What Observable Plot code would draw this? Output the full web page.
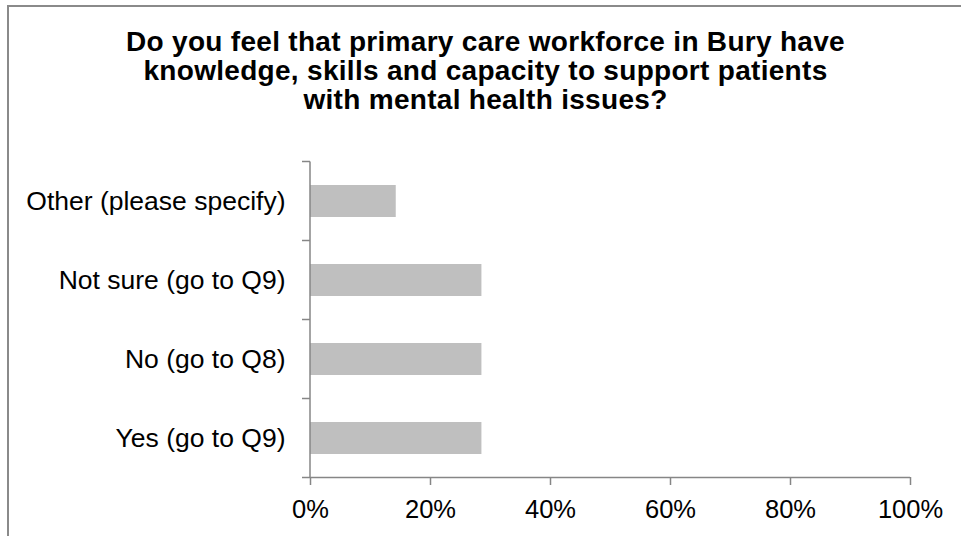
<!DOCTYPE html>
<html>
<head>
<meta charset="utf-8">
<script src="https://cdn.jsdelivr.net/npm/d3@7"></script>
<script src="https://cdn.jsdelivr.net/npm/@observablehq/plot@0.6"></script>
<style>
  html, body { margin: 0; padding: 0; background: #fff; }
  #wrap { position: relative; width: 961px; height: 536px; overflow: hidden; font-family: "Liberation Sans", Arial, sans-serif; }
  #frame { position: absolute; left: 7px; top: 5px; width: 1000px; height: 600px; border-left: 2px solid #8a8a8a; border-top: 2px solid #8a8a8a; box-sizing: border-box; }
  #title { position: absolute; left: 8px; width: 955px; top: 27px; text-align: center; font-weight: bold; font-size: 28px; letter-spacing: 0.3px; line-height: 29px; color: #000; }
  #chart { position: absolute; left: 0; top: 140px; }
</style>
</head>
<body>
<div id="wrap">
  <div id="frame"></div>
  <div id="title">Do you feel that primary care workforce in Bury have<br>knowledge, skills and capacity to support patients<br>with mental health issues?</div>
  <div id="chart"></div>
</div>
<script>
const categories = ["Other (please specify)", "Not sure (go to Q9)", "No (go to Q8)", "Yes (go to Q9)"];
const shares = [0.1429, 0.2857, 0.2857, 0.2857];
const xTicks = [0, 0.2, 0.4, 0.6, 0.8, 1.0];
const tickLabels = ["0%", "20%", "40%", "60%", "80%", "100%"];

const data = categories.map((c, i) => ({category: c, share: shares[i]}));
const axisColor = "#868686";

// axis lines: y-axis with ticks at the band boundaries, and the x baseline (drawn from the scales)
function bandBoundaryAxis(index, scales, values, dimensions) {
  const y = scales.y;
  const dom = y.domain();
  const bw = y.bandwidth();
  const step = dom.length > 1 ? y(dom[1]) - y(dom[0]) : bw;
  const gap = (step - bw) / 2;
  const bounds = dom.map(d => y(d) - gap);
  bounds.push(y(dom[dom.length - 1]) + bw + gap);
  const x0 = scales.x(0);
  const x1 = scales.x(1);
  const yb = bounds[bounds.length - 1];
  const g = d3.create("svg:g").attr("stroke", axisColor).attr("stroke-width", 1.5).attr("fill", "none");
  g.append("line").attr("x1", x0).attr("x2", x0).attr("y1", bounds[0]).attr("y2", yb);
  for (const b of bounds) g.append("line").attr("x1", x0 - 8).attr("x2", x0).attr("y1", b).attr("y2", b);
  g.append("line").attr("x1", x0).attr("x2", x1).attr("y1", yb).attr("y2", yb);
  return g.node();
}

const chart = Plot.plot({
  width: 961,
  height: 396,
  marginTop: 21,
  marginBottom: 59,
  marginLeft: 310,
  marginRight: 51,
  style: { fontFamily: "'Liberation Sans', Arial, sans-serif", background: "transparent", overflow: "visible" },
  x: { domain: [0, 1] },
  y: { domain: categories, paddingInner: 0.6, paddingOuter: 0.3 },
  marks: [
    Plot.barX(data, { x: "share", y: "category", fill: "#bfbfbf" }),
    Plot.axisY({ tickSize: 0, tickPadding: 25, fontSize: 26.5, fill: "#000", label: null }),
    Plot.axisX({ ticks: xTicks, tickFormat: (d, i) => tickLabels[i], tickSize: 8, tickPadding: 14, fontSize: 25.5, fill: "#000", stroke: axisColor, strokeWidth: 1.5, strokeOpacity: 1, label: null }),
    bandBoundaryAxis
  ]
});
document.getElementById("chart").appendChild(chart);
</script>
</body>
</html>
